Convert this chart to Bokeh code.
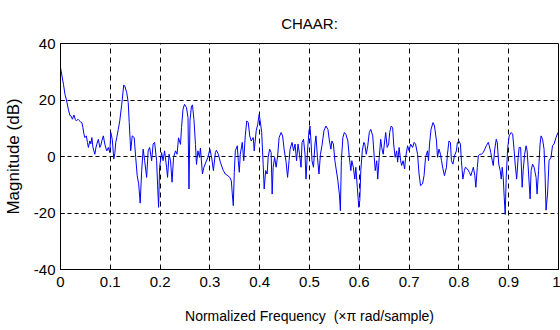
from bokeh.plotting import figure
from bokeh.models import FixedTicker, CustomJSTickFormatter, Range1d
from bokeh.embed import file_html
from bokeh.resources import INLINE

title_text = "CHAAR:"
x_label = "Normalized Frequency \u00a0(\u00d7\u03c0 rad/sample)"
y_label = "Magnitude (dB)"

x_ticks = [0, 0.1, 0.2, 0.3, 0.4, 0.5, 0.6, 0.7, 0.8, 0.9, 1]
y_ticks = [-40, -20, 0, 20, 40]

freq = [
    0.000, 0.003, 0.006, 0.009, 0.012, 0.016, 0.019, 0.021, 0.024, 0.027,
    0.030, 0.032, 0.035, 0.037, 0.040, 0.043, 0.045, 0.047, 0.049, 0.052,
    0.054, 0.056, 0.059, 0.061, 0.063, 0.065, 0.067, 0.069, 0.071, 0.073,
    0.076, 0.079, 0.081, 0.083, 0.086, 0.089, 0.091, 0.093, 0.096, 0.099,
    0.101, 0.104, 0.107, 0.109, 0.111, 0.113, 0.116, 0.119, 0.123, 0.127,
    0.129, 0.133, 0.136, 0.138, 0.141, 0.144, 0.148, 0.151, 0.154, 0.157,
    0.160, 0.163, 0.166, 0.169, 0.173, 0.176, 0.179, 0.183, 0.186, 0.189,
    0.193, 0.195, 0.197, 0.199, 0.203, 0.206, 0.209, 0.213, 0.215, 0.218,
    0.221, 0.224, 0.227, 0.231, 0.234, 0.237, 0.241, 0.243, 0.246, 0.249,
    0.253, 0.256, 0.258, 0.260, 0.263, 0.265, 0.268, 0.271, 0.273, 0.276,
    0.279, 0.281, 0.285, 0.288, 0.292, 0.296, 0.300, 0.304, 0.307, 0.311,
    0.313, 0.317, 0.321, 0.327, 0.331, 0.336, 0.340, 0.343, 0.345, 0.347,
    0.349, 0.351, 0.355, 0.357, 0.359, 0.361, 0.365, 0.368, 0.371, 0.374,
    0.377, 0.380, 0.383, 0.387, 0.389, 0.393, 0.396, 0.399, 0.401, 0.404,
    0.407, 0.409, 0.412, 0.415, 0.417, 0.420, 0.423, 0.425, 0.427, 0.430,
    0.433, 0.436, 0.439, 0.443, 0.446, 0.449, 0.453, 0.456, 0.459, 0.461,
    0.465, 0.468, 0.471, 0.474, 0.477, 0.480, 0.483, 0.485, 0.488, 0.491,
    0.493, 0.496, 0.499, 0.501, 0.503, 0.505, 0.508, 0.511, 0.513, 0.516,
    0.519, 0.522, 0.525, 0.529, 0.533, 0.537, 0.540, 0.543, 0.545, 0.548,
    0.551, 0.555, 0.557, 0.560, 0.562, 0.564, 0.567, 0.570, 0.573, 0.577,
    0.580, 0.583, 0.585, 0.588, 0.591, 0.593, 0.596, 0.599, 0.601, 0.603,
    0.606, 0.609, 0.611, 0.614, 0.617, 0.620, 0.623, 0.627, 0.630, 0.632,
    0.635, 0.637, 0.640, 0.643, 0.645, 0.648, 0.651, 0.653, 0.656, 0.659,
    0.661, 0.664, 0.667, 0.669, 0.672, 0.675, 0.677, 0.680, 0.683, 0.685,
    0.688, 0.691, 0.693, 0.697, 0.700, 0.703, 0.707, 0.710, 0.713, 0.717,
    0.720, 0.723, 0.727, 0.730, 0.733, 0.737, 0.739, 0.741, 0.744, 0.748,
    0.751, 0.755, 0.757, 0.760, 0.763, 0.765, 0.768, 0.771, 0.775, 0.777,
    0.780, 0.783, 0.785, 0.788, 0.791, 0.795, 0.797, 0.800, 0.803, 0.805,
    0.808, 0.811, 0.813, 0.817, 0.821, 0.824, 0.827, 0.829, 0.832, 0.834,
    0.837, 0.839, 0.842, 0.845, 0.849, 0.852, 0.855, 0.859, 0.861, 0.864,
    0.867, 0.869, 0.872, 0.875, 0.877, 0.880, 0.883, 0.885, 0.887, 0.889,
    0.891, 0.893, 0.895, 0.898, 0.901, 0.905, 0.908, 0.911, 0.913, 0.916,
    0.919, 0.921, 0.924, 0.927, 0.929, 0.932, 0.935, 0.937, 0.940, 0.943,
    0.945, 0.948, 0.951, 0.955, 0.957, 0.960, 0.963, 0.965, 0.968, 0.971,
    0.973, 0.975, 0.978, 0.981, 0.985, 0.988, 0.991, 0.995, 0.999,
]

mag_db = [
    31.5, 28.5, 25.5, 22.0, 20.0, 16.5, 14.5, 14.4, 13.2, 14.7,
    13.0, 12.6, 13.2, 12.8, 12.3, 12.0, 10.2, 8.0, 6.7, 7.3,
    5.0, 3.2, 5.5, 4.5, 6.7, 3.4, 2.0, 0.8, 3.0, 4.4,
    6.1, 3.2, 4.0, 5.5, 7.3, 4.4, 3.0, 2.0, 3.2, 1.4,
    8.5, 6.0, -0.9, 1.0, 5.0, 6.7, 9.6, 12.6, 18.5, 25.3,
    25.0, 22.6, 19.1, 12.0, 2.0, 7.3, 6.7, -0.3, -6.8, -9.7,
    -16.5, -5.0, 2.6, -1.5, -7.4, 2.0, 3.2, -1.5, 4.4, 5.0,
    -1.5, -10.3, -18.0, -3.8, 1.4, -1.5, 2.0, -3.8, -7.4, 0.8,
    -1.5, -9.1, -0.3, 2.0, 0.8, 6.6, 4.3, 10.2, 16.7, 18.5,
    17.3, 13.8, -11.5, 12.6, 17.9, 18.2, 13.0, 4.3, -2.8, 2.0,
    -0.3, 3.0, -6.2, -3.8, -2.0, -0.3, 2.6, -0.9, -5.0, 1.4,
    2.2, 0.8, -2.0, -5.0, -6.2, -6.8, -7.4, -8.6, -13.3, -17.4,
    -5.6, 2.0, 3.8, -1.5, -5.6, 0.8, 5.0, -1.5, 7.3, 12.6,
    12.0, 7.3, 5.5, 6.7, 2.0, 9.1, 11.4, 15.0, 12.6, 8.5,
    -2.8, -11.5, -5.0, -6.2, -0.3, 2.6, 1.4, -13.3, -3.8, -0.3,
    -3.8, 0.2, 6.7, 8.5, 7.3, 2.6, -2.0, -7.4, -1.5, 2.6,
    5.0, 2.0, 4.4, -1.5, 4.4, 0.8, -3.8, 5.0, 6.1, 0.8,
    -8.0, 2.0, 9.1, 10.8, 5.5, -1.5, -3.8, 4.4, 7.3, -0.3,
    -6.2, 0.8, 3.8, 9.1, 10.8, 9.6, 5.5, 2.6, 5.5, 4.4,
    -1.5, -6.2, -8.6, -13.3, -19.2, -1.5, 6.7, 8.5, 7.9, 5.5,
    -0.3, -5.0, -1.5, -3.8, -8.0, -3.8, -10.9, -18.0, -15.6, -5.0,
    2.0, 5.0, 4.4, 0.8, 3.8, 8.5, 9.6, 7.3, -0.3, -5.0,
    -1.5, -8.0, -0.3, 6.1, 3.2, 0.8, 5.5, 8.5, 3.2, 4.4,
    8.5, 10.8, 10.2, 4.4, -0.3, 2.0, -2.0, 3.2, -1.5, -3.2,
    -1.5, -4.4, -0.3, 3.8, 2.0, 4.4, 3.2, 5.0, 4.4, 0.8,
    -6.2, -10.3, -9.7, -6.8, -0.3, 2.0, -1.5, 4.4, 9.6, 12.0,
    10.8, 5.5, -0.3, 2.6, 0.8, -1.5, -4.4, -6.8, -3.8, 0.8,
    5.5, 5.0, -1.5, -2.7, 0.2, 2.0, 5.0, 5.5, 4.4, -1.5,
    -8.0, -5.0, -3.8, -4.4, -5.6, -6.8, -5.0, -3.8, -6.8, -10.9,
    -3.8, 0.2, 0.8, 0.8, 1.4, 2.6, 3.8, 5.0, 3.8, 1.4,
    -1.5, -3.2, 2.6, 6.1, 5.0, -2.7, -5.0, -8.0, -3.8, -7.4,
    -14.4, -20.5, -7.4, 3.2, 7.3, 8.5, 7.9, 2.0, -2.7, -8.0,
    -0.3, 3.2, 3.2, -10.9, -5.0, 0.8, 3.8, 2.0, -6.2, -15.0,
    -5.0, -2.7, -3.8, -7.4, -13.3, -5.0, 4.4, 7.3, 6.1, 2.6,
    -6.2, -19.0, -13.3, -1.5, -0.3, 3.8, 4.4, 6.7, 8.5,
]

FONT = "Liberation Sans"

p = figure(
    width=560, height=330,
    output_backend="svg", toolbar_location=None,
    x_range=Range1d(0, 1), y_range=Range1d(-40, 40),
    min_border_left=58, min_border_right=2,
    min_border_top=43, min_border_bottom=61,
    title=title_text,
)

p.background_fill_color = "white"
p.border_fill_color = "white"
p.outline_line_color = "black"
p.outline_line_width = 1
p.outline_line_alpha = 1

p.title.align = "center"
p.title.text_font = FONT
p.title.text_font_size = "15px"
p.title.text_font_style = "normal"
p.title.text_color = "black"
p.title.standoff = 24

p.line(freq, mag_db, line_color="#0000ff", line_width=1)

p.xaxis.ticker = FixedTicker(ticks=x_ticks)
p.yaxis.ticker = FixedTicker(ticks=y_ticks)
p.xaxis.formatter = CustomJSTickFormatter(code="return String(Math.round(tick*10)/10);")
p.yaxis.formatter = CustomJSTickFormatter(code="return String(Math.round(tick));")

for ax in (p.xaxis[0], p.yaxis[0]):
    ax.axis_line_color = "black"
    ax.axis_line_width = 1
    ax.major_tick_line_color = "black"
    ax.major_tick_in = 4
    ax.major_tick_out = 0
    ax.minor_tick_line_color = None
    ax.major_label_text_font = FONT
    ax.major_label_text_font_size = "15px"
    ax.major_label_text_color = "black"
    ax.axis_label_text_font = FONT
    ax.axis_label_text_font_style = "normal"
    ax.axis_label_text_color = "black"

p.xaxis.axis_label = x_label
p.yaxis.axis_label = y_label
p.xaxis.axis_label_text_font_size = "14px"
p.yaxis.axis_label_text_font_size = "17px"
p.xaxis.major_label_standoff = 7
p.yaxis.major_label_standoff = 5
p.xaxis.axis_label_standoff = 18
p.yaxis.axis_label_standoff = 8

p.xgrid.grid_line_color = "black"
p.xgrid.grid_line_dash = "5 4"
p.xgrid.grid_line_width = 1
p.ygrid.grid_line_color = "black"
p.ygrid.grid_line_dash = "4 3"
p.ygrid.grid_line_width = 1

open("out.html", "w").write(file_html(p, INLINE))
